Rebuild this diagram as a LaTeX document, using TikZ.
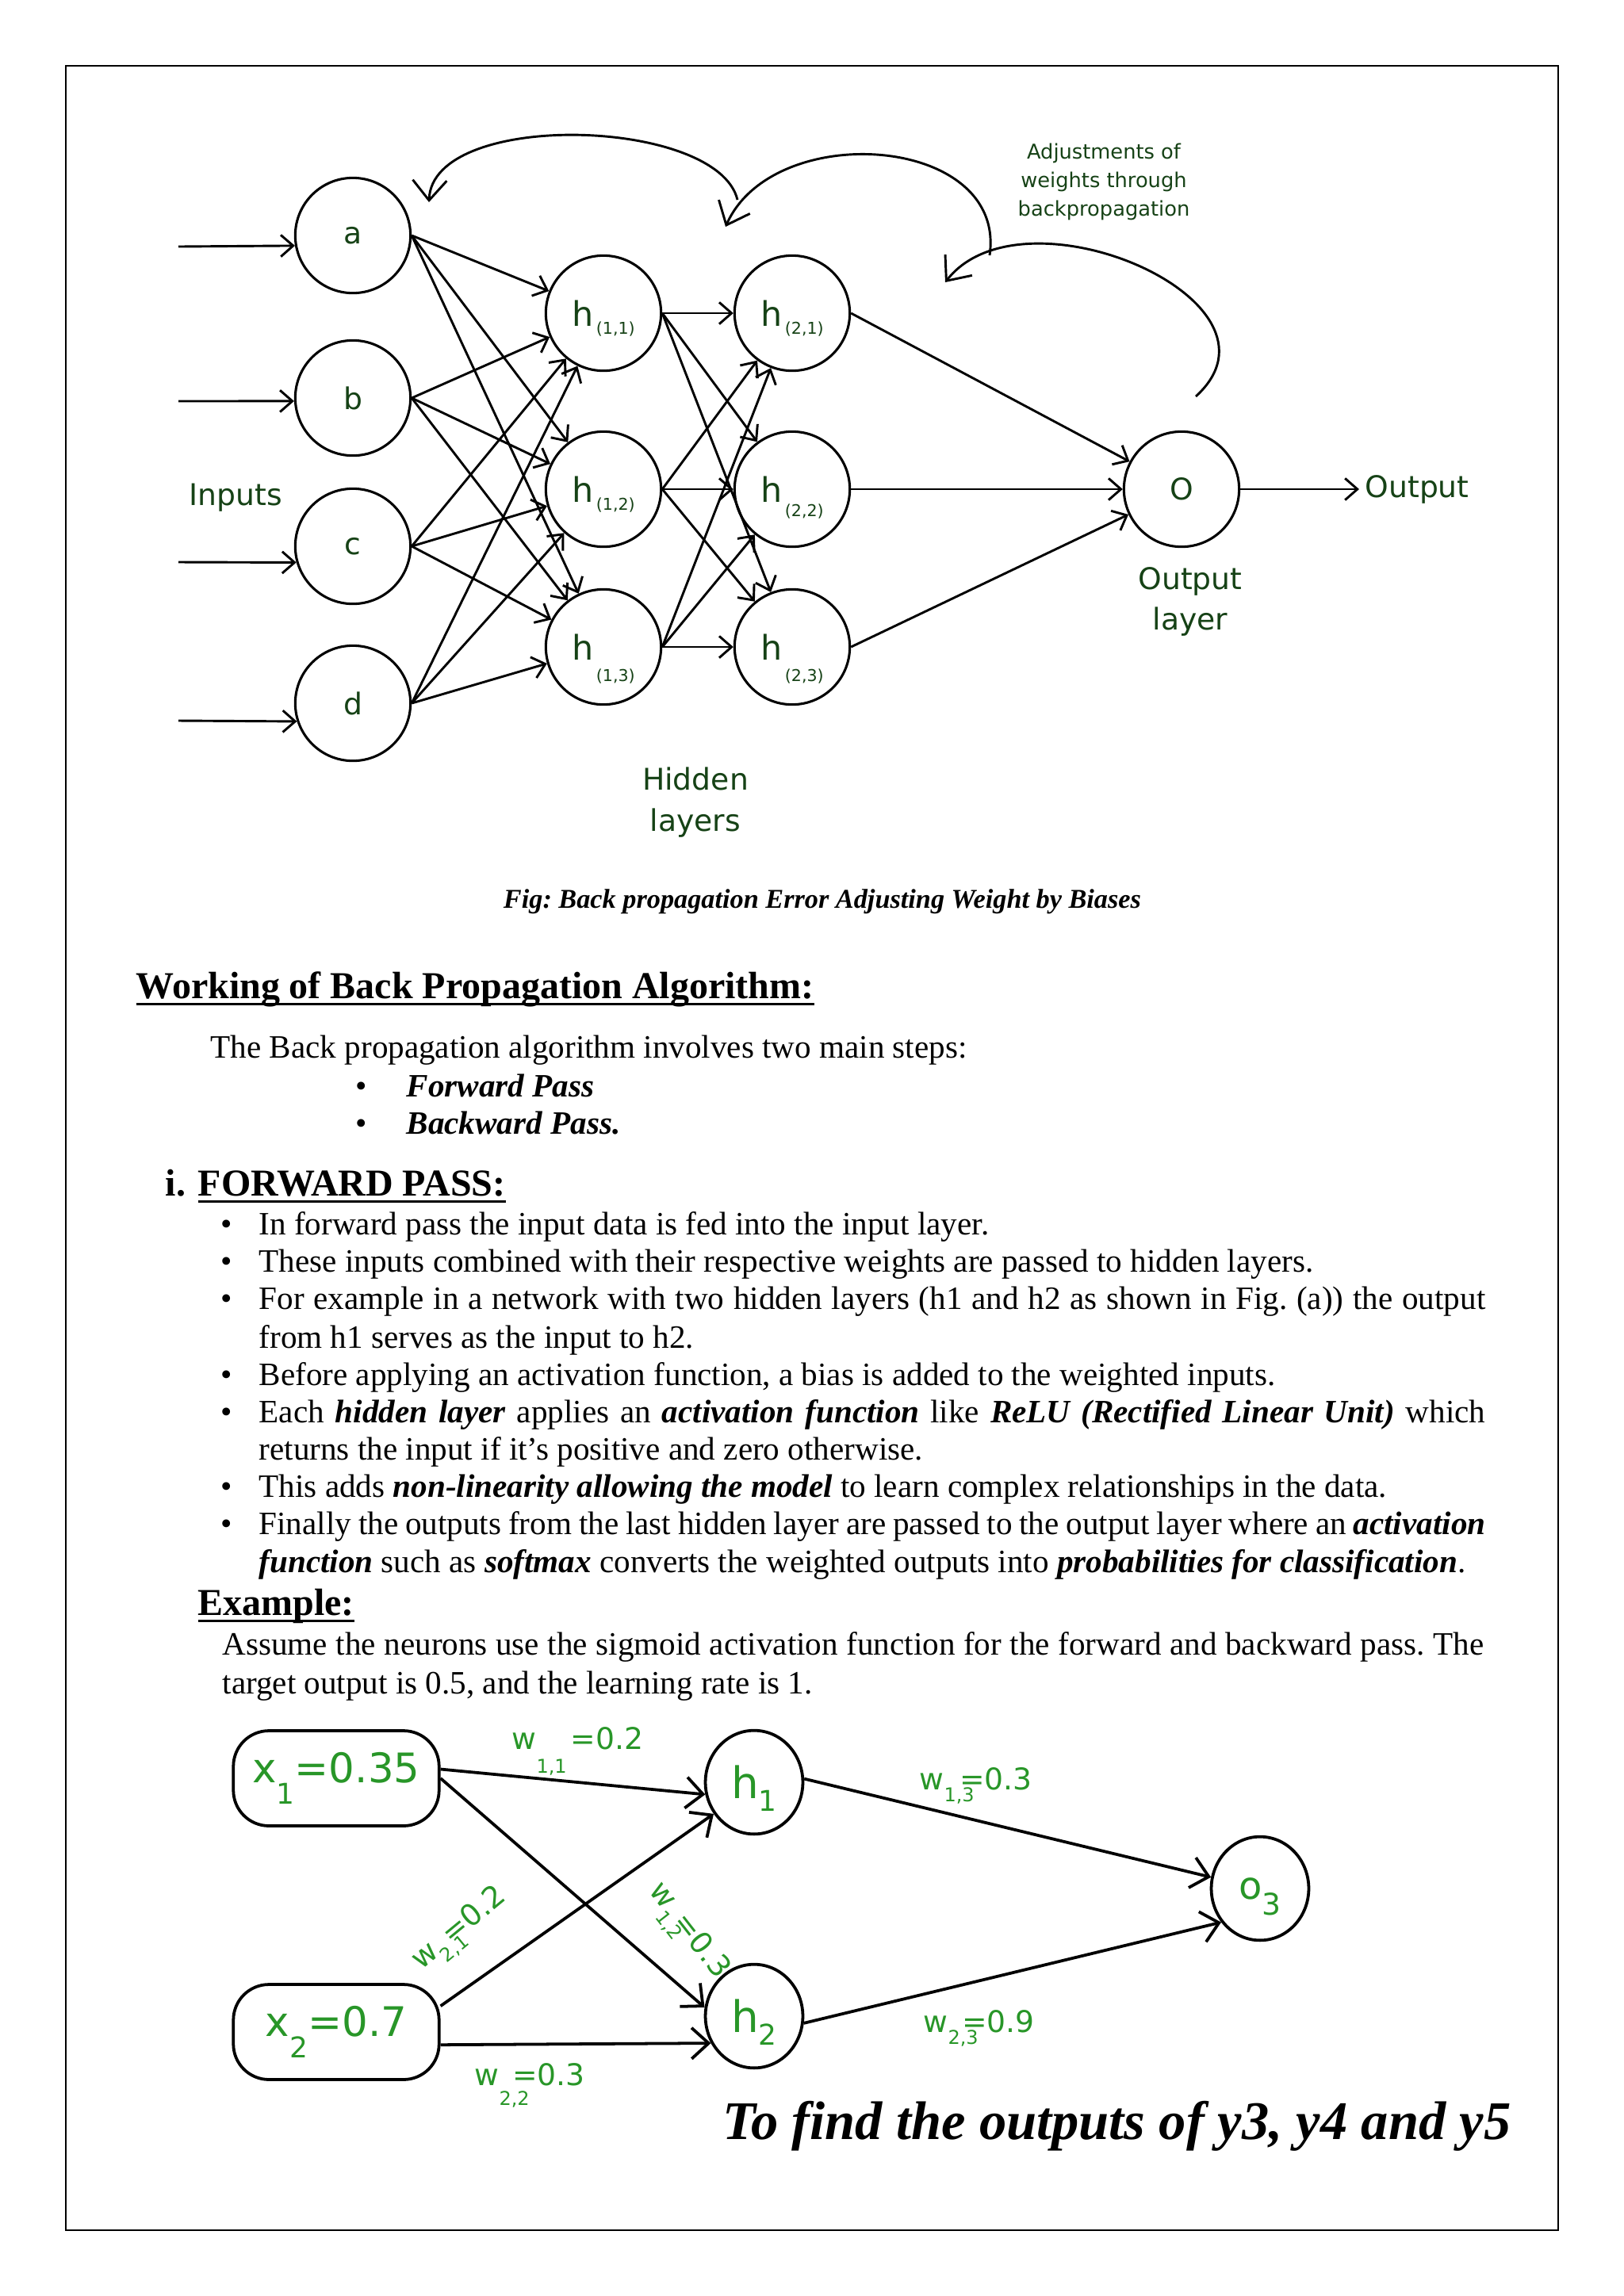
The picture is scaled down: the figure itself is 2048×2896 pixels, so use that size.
\documentclass[tikz,border=0pt]{standalone}
\usepackage{fontspec}
\setmainfont{Liberation Serif}
\newfontfamily\diag{DejaVu Sans}
\usepackage{xcolor}
\usepackage{tikz}
\usetikzlibrary{arrows.meta, shapes.geometric}
\frenchspacing

\definecolor{dkgreen}{RGB}{22,66,22}
\definecolor{ltgreen}{RGB}{40,150,40}

\newcommand{\wul}[1]{\setbox0\hbox{#1}\rlap{\rule[-2.6pt]{\wd0}{0.9pt}}\box0}
\newcommand{\bi}[1]{\textbf{\textit{#1}}}
\newcommand{\hsub}[2]{{\fontsize{12.5}{13}\selectfont h}\smash{\raisebox{#2}{\fontsize{6}{6}\selectfont\,#1}}}
\newcommand{\dsub}[3]{\smash{\raisebox{#1}{\fontsize{#2}{#2}\selectfont #3}}}
\newcommand{\wlab}[4]{w\raisebox{#2}{\fontsize{7}{7}\selectfont #1}\kern#3=#4}
\newcommand{\fline}[1]{\hbox to 158.6mm{#1}}

\tikzset{
  neuron/.style={circle, draw, line width=0.9pt, minimum size=14.9mm, inner sep=0pt,
    text=dkgreen, font=\diag\fontsize{11}{13}\selectfont},
  wire/.style={line width=0.85pt, -{Straight Barb[length=1.6mm,width=2.8mm]}},
  backarc/.style={line width=0.85pt, -{Straight Barb[length=2.6mm,width=4.4mm]}},
  lbl/.style={text=dkgreen, align=center, inner sep=0pt, font=\diag\fontsize{11}{15}\selectfont},
  body/.style={anchor=base west, inner sep=0pt, font=\fontsize{12}{14}\selectfont},
  dot/.style={anchor=base, inner sep=0pt, font=\fontsize{12}{14}\selectfont},
  head/.style={anchor=base west, inner sep=0pt, font=\fontsize{14}{16}\selectfont\bfseries},
  xbox/.style={draw, rounded corners=4.6mm, line width=1.1pt, minimum width=26.6mm,
    minimum height=12.3mm, inner sep=0pt, text=ltgreen, font=\diag\fontsize{15}{18}\selectfont},
  unit/.style={ellipse, draw, line width=1.1pt, inner sep=0pt, minimum width=12.6mm,
    minimum height=13.4mm, text=ltgreen, font=\diag\fontsize{16}{18}\selectfont},
  wlink/.style={line width=1.1pt, -{Straight Barb[length=2.2mm,width=4mm]}},
  wlbl/.style={text=ltgreen, inner sep=0pt, font=\diag\fontsize{11}{12}\selectfont},
}

\begin{document}
\begin{tikzpicture}[x=0.10254mm, y=-0.10254mm]
    \useasboundingbox (0,0) rectangle (2048,2896);
    \draw[line width=0.55pt] (83,83) rectangle (1965,2813);

    % Rete
    \node[neuron] (a) at (445,297) {a};
    \node[neuron] (b) at (445,502) {b};
    \node[neuron] (c) at (445,689) {c};
    \node[neuron] (d) at (445,887) {d};
    \node[neuron] (h11) at (761,395) {\hsub{(1,1)}{-0.5ex}};
    \node[neuron] (h12) at (761,617) {\hsub{(1,2)}{-0.5ex}};
    \node[neuron] (h13) at (761,816) {\hsub{(1,3)}{-1.3ex}};
    \node[neuron] (h21) at (999,395) {\hsub{(2,1)}{-0.5ex}};
    \node[neuron] (h22) at (999,617) {\hsub{(2,2)}{-0.9ex}};
    \node[neuron] (h23) at (999,816) {\hsub{(2,3)}{-1.3ex}};
    \node[neuron] (o) at (1490,617) {O};

    \coordinate (ina) at (225,311);
    \coordinate (inb) at (225,506);
    \coordinate (inc) at (225,709);
    \coordinate (ind) at (225,909);
    \draw[wire] (ina) -- (a.190);
    \draw[wire] (inb) -- (b.183);
    \draw[wire] (inc) -- (c.196);
    \draw[wire] (ind) -- (d.198);

    \foreach \s in {a,b,c,d}
      \foreach \t in {h11,h12,h13}
        \draw[wire] (\s.east) -- (\t);
    \foreach \s in {h11,h12,h13}
      \foreach \t in {h21,h22,h23}
        \draw[wire] (\s.east) -- (\t);
    \foreach \s in {h21,h22,h23}
      \draw[wire] (\s.east) -- (o);

    \coordinate (out) at (1714,617);
    \draw[wire] (o.east) -- (out);
    \node[lbl, anchor=west] (outtxt) at (1721,617) {Output};
    \node[lbl] (inputs) at (297,628) {Inputs};
    \node[lbl] (hidden) at (877,1012) {Hidden\\layers};
    \node[lbl] (outlayer) at (1501,759) {Output\\layer};
    \node[lbl, font=\diag\fontsize{7.5}{10.5}\selectfont] (adjust) at (1392,229)
      {Adjustments of\\weights through\\backpropagation};

    % Archi
    \coordinate (arcA) at (930,252);  \coordinate (tipA) at (541,255);
    \coordinate (arcB) at (1248,322); \coordinate (tipB) at (915,286);
    \coordinate (arcC) at (1508,500); \coordinate (tipC) at (1192,356);
    \draw[backarc] (arcA) .. controls (905,148) and (545,138) .. (tipA);
    \draw[backarc] (arcB) .. controls (1270,170) and (975,150) .. (tipB);
    \draw[backarc] (arcC) .. controls (1640,380) and (1290,230) .. (tipC);

    % Testo
    \node[anchor=base, inner sep=0pt, font=\fontsize{10}{12}\selectfont\bfseries\itshape] (cap)
      at (1037,1145) {Fig: Back propagation Error Adjusting Weight by Biases};
    \node[head] (work) at (171,1259) {\wul{Working of Back Propagation Algorithm:}};
    \node[body] (intro) at (265,1334) {The Back propagation algorithm involves two main steps:};
    \node[dot] (d1) at (456,1383) {•};
    \node[body] (s1) at (512,1383) {\bi{Forward Pass}};
    \node[dot] (d2) at (456,1430) {•};
    \node[body] (s2) at (512,1430) {\bi{Backward Pass.}};
    \node[head] (num) at (208,1508) {i.};
    \node[head] (fp) at (249,1508) {\wul{FORWARD PASS:}};

    \node[dot] (p1) at (286,1557) {•};
    \node[body] (t1) at (326,1557) {In forward pass the input data is fed into the input layer.};
    \node[dot] (p2) at (286,1604) {•};
    \node[body] (t2) at (326,1604) {These inputs combined with their respective weights are passed to hidden layers.};
    \node[dot] (p3) at (286,1651) {•};
    \node[body] (t3) at (326,1651) {\fline{For example in a network with two hidden layers (h1 and h2 as shown in Fig. (a)) the output}};
    \node[body] (t3b) at (326,1700) {from h1 serves as the input to h2.};
    \node[dot] (p4) at (286,1747) {•};
    \node[body] (t4) at (326,1747) {Before applying an activation function, a bias is added to the weighted inputs.};
    \node[dot] (p5) at (286,1794) {•};
    \node[body] (t5) at (326,1794) {\fline{Each \bi{hidden layer} applies an \bi{activation function} like \bi{ReLU (Rectified Linear Unit)} which}};
    \node[body] (t5b) at (326,1841) {returns the input if it’s positive and zero otherwise.};
    \node[dot] (p6) at (286,1888) {•};
    \node[body] (t6) at (326,1888) {This adds \bi{non-linearity allowing the model} to learn complex relationships in the data.};
    \node[dot] (p7) at (286,1935) {•};
    \node[body] (t7) at (326,1935) {\fline{Finally the outputs from the last hidden layer are passed to the output layer where an \bi{activation}}};
    \node[body] (t7b) at (326,1983) {\bi{function} such as \bi{softmax} converts the weighted outputs into \bi{probabilities for classification}.};

    \node[head] (ex) at (249,2037) {\wul{Example:}};
    \node[body] (ex1) at (280,2087) {\hbox to 163.1mm{Assume the neurons use the sigmoid activation function for the forward and backward pass. The}};
    \node[body] (ex2) at (280,2136) {target output is 0.5, and the learning rate is 1.};

    % Esempio
    \node[xbox] (x1) at (424,2243) {x\raisebox{-7.8pt}{\fontsize{10.5}{10}\selectfont 1}=0.35};
    \node[xbox] (x2) at (424,2563) {x\raisebox{-7.8pt}{\fontsize{10.5}{10}\selectfont 2}=0.7};
    \node[unit] (h1) at (951,2248) {h\dsub{-4.7pt}{10.5}{1}};
    \node[unit] (h2) at (951,2543) {h\dsub{-4.7pt}{10.5}{2}};
    \node[unit, font=\diag\fontsize{14}{16}\selectfont] (o3) at (1589,2382)
      {o\dsub{-6pt}{11}{3}};

    \draw[wlink] (x1.5) -- (h1.194);
    \draw[wlink] (x1.east) -- (h2.170);
    \draw[wlink] (x2.14) -- (h1.218);
    \draw[wlink] (x2.-7) -- (h2.212);
    \draw[wlink] (h1.4) -- (o3.167);
    \draw[wlink] (h2.-8) -- (o3.221);

    \node[wlbl, anchor=base west] (w11) at (645,2206) {\wlab{1,1}{-9pt}{1.5pt}{0.2}};
    \node[wlbl, anchor=base west] (w13) at (1159,2257) {\wlab{1,3}{-4.4pt}{-1.9mm}{0.3}};
    \node[wlbl, anchor=base west] (w23) at (1164,2563) {\wlab{2,3}{-4.6pt}{-2.1mm}{0.9}};
    \node[wlbl, anchor=base west] (w22) at (598,2630) {\wlab{2,2}{-7.3pt}{-2.2mm}{0.3}};
    \node[wlbl, rotate=39.5] (w21) at (582,2436) {\wlab{2,1}{-4pt}{-2mm}{0.2}};
    \node[wlbl, rotate=-52] (w12) at (865,2438) {\wlab{1,2}{-4pt}{-2mm}{0.3}};

    \node[anchor=base east, inner sep=0pt, font=\fontsize{20}{24}\selectfont\bfseries\itshape] (find)
      at (1906,2698) {To find the outputs of y3, y4 and y5};
\end{tikzpicture}
\end{document}
